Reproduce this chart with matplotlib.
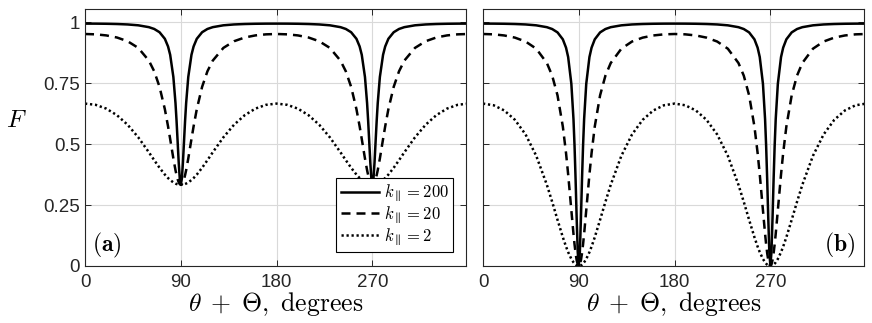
import matplotlib
matplotlib.use('Agg')
import matplotlib.pyplot as plt

plt.rcParams['font.family'] = ['Liberation Sans', 'DejaVu Sans']
plt.rcParams['mathtext.fontset'] = 'cm'

# angle theta + Theta, degrees (denser near the dips)
angle = [0, 10, 20, 30, 40, 50, 60, 65, 70, 75, 78, 80, 83, 85, 86, 87, 88, 89, 90,
         91, 92, 93, 94, 95, 97, 100, 102, 105, 110, 115, 120, 130, 140, 150, 160, 170, 180,
         190, 200, 210, 220, 230, 240, 245, 250, 255, 258, 260, 263, 265, 266, 267, 268, 269, 270,
         271, 272, 273, 274, 275, 277, 280, 282, 285, 290, 295, 300, 310, 320, 330, 340, 350, 360]

# panel (a)
a_k200 = [0.995, 0.9949, 0.9944, 0.9934, 0.9916, 0.9881, 0.9805, 0.9731, 0.9597, 0.9327, 0.9012, 0.8669, 0.7759, 0.6684, 0.5953, 0.5113, 0.4263, 0.3593, 0.3333,
          0.3593, 0.4263, 0.5113, 0.5953, 0.6684, 0.7759, 0.8669, 0.9012, 0.9327, 0.9597, 0.9731, 0.9805, 0.9881, 0.9916, 0.9934, 0.9944, 0.9949, 0.995,
          0.9949, 0.9944, 0.9934, 0.9916, 0.9881, 0.9805, 0.9731, 0.9597, 0.9327, 0.9012, 0.8669, 0.7759, 0.6684, 0.5953, 0.5113, 0.4263, 0.3593, 0.3333,
          0.3593, 0.4263, 0.5113, 0.5953, 0.6684, 0.7759, 0.8669, 0.9012, 0.9327, 0.9597, 0.9731, 0.9805, 0.9881, 0.9916, 0.9934, 0.9944, 0.9949, 0.995]
a_k20 = [0.9524, 0.951, 0.9466, 0.938, 0.9227, 0.8954, 0.8431, 0.7993, 0.7355, 0.6437, 0.5732, 0.5211, 0.4412, 0.3932, 0.373, 0.3563, 0.3437, 0.336, 0.3333,
         0.336, 0.3437, 0.3563, 0.373, 0.3932, 0.4412, 0.5211, 0.5732, 0.6437, 0.7355, 0.7993, 0.8431, 0.8954, 0.9227, 0.938, 0.9466, 0.951, 0.9524,
         0.951, 0.9466, 0.938, 0.9227, 0.8954, 0.8431, 0.7993, 0.7355, 0.6437, 0.5732, 0.5211, 0.4412, 0.3932, 0.373, 0.3563, 0.3437, 0.336, 0.3333,
         0.336, 0.3437, 0.3563, 0.373, 0.3932, 0.4412, 0.5211, 0.5732, 0.6437, 0.7355, 0.7993, 0.8431, 0.8954, 0.9227, 0.938, 0.9466, 0.951, 0.9524]
a_k2 = [0.6667, 0.6616, 0.646, 0.619, 0.5799, 0.5283, 0.4667, 0.4344, 0.4032, 0.3752, 0.361, 0.3529, 0.3431, 0.3384, 0.3366, 0.3352, 0.3341, 0.3335, 0.3333,
        0.3335, 0.3341, 0.3352, 0.3366, 0.3384, 0.3431, 0.3529, 0.361, 0.3752, 0.4032, 0.4344, 0.4667, 0.5283, 0.5799, 0.619, 0.646, 0.6616, 0.6667,
        0.6616, 0.646, 0.619, 0.5799, 0.5283, 0.4667, 0.4344, 0.4032, 0.3752, 0.361, 0.3529, 0.3431, 0.3384, 0.3366, 0.3352, 0.3341, 0.3335, 0.3333,
        0.3335, 0.3341, 0.3352, 0.3366, 0.3384, 0.3431, 0.3529, 0.361, 0.3752, 0.4032, 0.4344, 0.4667, 0.5283, 0.5799, 0.619, 0.646, 0.6616, 0.6667]

# panel (b)
b_k200 = [0.995, 0.9949, 0.9944, 0.9934, 0.9916, 0.988, 0.9804, 0.9728, 0.959, 0.9305, 0.8963, 0.8578, 0.7481, 0.603, 0.4932, 0.3539, 0.1959, 0.0574, 0.0,
          0.0574, 0.1959, 0.3539, 0.4932, 0.603, 0.7481, 0.8578, 0.8963, 0.9305, 0.959, 0.9728, 0.9804, 0.988, 0.9916, 0.9934, 0.9944, 0.9949, 0.995,
          0.9949, 0.9944, 0.9934, 0.9916, 0.988, 0.9804, 0.9728, 0.959, 0.9305, 0.8963, 0.8578, 0.7481, 0.603, 0.4932, 0.3539, 0.1959, 0.0574, 0.0,
          0.0574, 0.1959, 0.3539, 0.4932, 0.603, 0.7481, 0.8578, 0.8963, 0.9305, 0.959, 0.9728, 0.9804, 0.988, 0.9916, 0.9934, 0.9944, 0.9949, 0.995]
b_k20 = [0.9524, 0.951, 0.9464, 0.9375, 0.9215, 0.8921, 0.8333, 0.7813, 0.7006, 0.5726, 0.4637, 0.3762, 0.229, 0.1319, 0.0887, 0.0519, 0.0238, 0.0061, 0.0,
         0.0061, 0.0238, 0.0519, 0.0887, 0.1319, 0.229, 0.3762, 0.4637, 0.5726, 0.7006, 0.7813, 0.8333, 0.8921, 0.9215, 0.9375, 0.9464, 0.951, 0.9524,
         0.951, 0.9464, 0.9375, 0.9215, 0.8921, 0.8333, 0.7813, 0.7006, 0.5726, 0.4637, 0.3762, 0.229, 0.1319, 0.0887, 0.0519, 0.0238, 0.0061, 0.0,
         0.0061, 0.0238, 0.0519, 0.0887, 0.1319, 0.229, 0.3762, 0.4637, 0.5726, 0.7006, 0.7813, 0.8333, 0.8921, 0.9215, 0.9375, 0.9464, 0.951, 0.9524]
b_k2 = [0.6667, 0.6598, 0.6385, 0.6, 0.54, 0.4525, 0.3333, 0.2632, 0.1896, 0.1181, 0.0796, 0.0569, 0.0288, 0.015, 0.0096, 0.0054, 0.0024, 0.0006, 0.0,
        0.0006, 0.0024, 0.0054, 0.0096, 0.015, 0.0288, 0.0569, 0.0796, 0.1181, 0.1896, 0.2632, 0.3333, 0.4525, 0.54, 0.6, 0.6385, 0.6598, 0.6667,
        0.6598, 0.6385, 0.6, 0.54, 0.4525, 0.3333, 0.2632, 0.1896, 0.1181, 0.0796, 0.0569, 0.0288, 0.015, 0.0096, 0.0054, 0.0024, 0.0006, 0.0,
        0.0006, 0.0024, 0.0054, 0.0096, 0.015, 0.0288, 0.0569, 0.0796, 0.1181, 0.1896, 0.2632, 0.3333, 0.4525, 0.54, 0.6, 0.6385, 0.6598, 0.6667]

labels = [r'$k_{\parallel} = 200$', r'$k_{\parallel} = 20$', r'$k_{\parallel} = 2$']
x_ticks = [0, 90, 180, 270]
y_ticks = [0, 0.25, 0.5, 0.75, 1]
y_ticklabels = ['0', '0.25', '0.5', '0.75', '1']

fig = plt.figure(figsize=(8.72, 3.23), dpi=100)
ax_a = fig.add_axes([0.0975, 0.1765, 0.437, 0.7956])
ax_b = fig.add_axes([0.5539, 0.1765, 0.437, 0.7956])

styles = [dict(linestyle='-'), dict(linestyle=(0, (3.6, 2.4))), dict(linestyle=(0, (0.9, 1.1)))]

for ax, series in [(ax_a, [a_k200, a_k20, a_k2]), (ax_b, [b_k200, b_k20, b_k2])]:
    for vals, st, lab in zip(series, styles, labels):
        ax.plot(angle, vals, color='black', linewidth=1.8, label=lab, **st)
    ax.set_xlim(0, 358)
    ax.set_ylim(0, 1.055)
    ax.set_xticks(x_ticks)
    ax.set_yticks(y_ticks)
    ax.grid(True, color='#d9d9d9', linewidth=0.8)
    ax.set_axisbelow(True)
    ax.tick_params(direction='in', length=4, width=0.7, colors='#262626',
                   labelsize=13.5, top=True, right=True)
    ax.tick_params(axis='x', pad=6)
    for sp in ax.spines.values():
        sp.set_color('#262626')
        sp.set_linewidth(0.8)
    ax.set_xlabel(r'$\theta\;+\;\Theta,\ \mathrm{degrees}$', fontsize=18.5, labelpad=-1)

ax_a.set_yticklabels(y_ticklabels)
ax_b.set_yticklabels([])
ax_a.set_ylabel(r'$F$', fontsize=18, rotation=0, va='center')
ax_a.yaxis.set_label_coords(-0.18, 0.57)

leg = ax_a.legend(loc='lower right', bbox_to_anchor=(0.966, 0.055), borderaxespad=0,
                  fontsize=12, handlelength=2.3, labelspacing=0.0, handletextpad=0.3,
                  borderpad=0.25, fancybox=False, framealpha=1, edgecolor='black')
leg.get_frame().set_linewidth(0.8)

ax_a.text(0.018, 0.025, r'$\mathbf{(a)}$', transform=ax_a.transAxes, fontsize=17,
          ha='left', va='bottom')
ax_b.text(0.976, 0.025, r'$\mathbf{(b)}$', transform=ax_b.transAxes, fontsize=17,
          ha='right', va='bottom')

fig.savefig('out.png', dpi=100)
plt.close('all')
